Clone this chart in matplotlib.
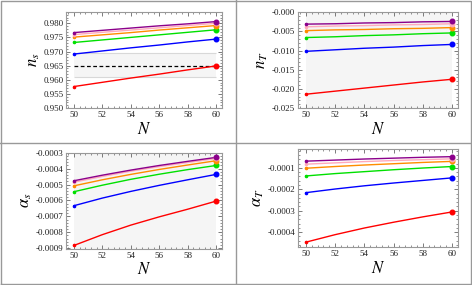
import matplotlib
matplotlib.use("Agg")
import matplotlib.pyplot as plt
from matplotlib.lines import Line2D
from matplotlib.ticker import MultipleLocator, FormatStrFormatter

plt.rcParams["font.family"] = "Liberation Serif"
plt.rcParams["mathtext.fontset"] = "stix"

# e-folds
N = [50, 52, 54, 56, 58, 60]
colors = ["#ff0000", "#0000ff", "#00e000", "#ff8c00", "#ffaabb", "#8b008b"]

# spectral index n_s
ns_red = [0.9576, 0.9591, 0.9606, 0.9620, 0.9635, 0.9649]
ns_blue = [0.9691, 0.9702, 0.9713, 0.9723, 0.9734, 0.9744]
ns_green = [0.9732, 0.9741, 0.9750, 0.9759, 0.9768, 0.9777]
ns_orange = [0.9751, 0.9759, 0.9767, 0.9776, 0.9784, 0.9792]
ns_pink = [0.9760, 0.9768, 0.9776, 0.9784, 0.9792, 0.9800]
ns_purple = [0.9767, 0.9775, 0.9783, 0.9791, 0.9798, 0.9806]
ns_obs = 0.9649
ns_band = [0.9610, 0.9693]

# tensor index n_T
nT_red = [-0.0214, -0.0206, -0.0198, -0.0190, -0.0182, -0.0175]
nT_blue = [-0.0102, -0.0098, -0.0094, -0.0091, -0.0087, -0.0084]
nT_green = [-0.0066, -0.0064, -0.0061, -0.0059, -0.0056, -0.0054]
nT_orange = [-0.0048, -0.0046, -0.0045, -0.0043, -0.0042, -0.0040]
nT_pink = [-0.0038, -0.0036, -0.0035, -0.0033, -0.0032, -0.0030]
nT_purple = [-0.0031, -0.0030, -0.0028, -0.0027, -0.0025, -0.0024]

# running alpha_s
as_red = [-0.000883, -0.000815, -0.000755, -0.000703, -0.000655, -0.000604]
as_blue = [-0.000633, -0.000585, -0.000543, -0.000505, -0.000470, -0.000436]
as_green = [-0.000545, -0.000504, -0.000467, -0.000435, -0.000406, -0.000380]
as_orange = [-0.000508, -0.000470, -0.000436, -0.000405, -0.000377, -0.000350]
as_pink = [-0.000485, -0.000449, -0.000416, -0.000387, -0.000361, -0.000336]
as_purple = [-0.000476, -0.000441, -0.000409, -0.000380, -0.000354, -0.000329]

# running alpha_T
aT_red = [-0.000447, -0.000412, -0.000381, -0.000354, -0.000329, -0.000306]
aT_blue = [-0.000216, -0.000199, -0.000184, -0.000171, -0.000159, -0.000147]
aT_green = [-0.000138, -0.000127, -0.000118, -0.000109, -0.000101, -0.000094]
aT_orange = [-0.000102, -0.000094, -0.000087, -0.000081, -0.000075, -0.000070]
aT_pink = [-0.000083, -0.000077, -0.000071, -0.000066, -0.000062, -0.000058]
aT_purple = [-0.000069, -0.000064, -0.000059, -0.000055, -0.000051, -0.000048]

panels = [
    dict(rect=[0.140, 0.621, 0.330, 0.336], data=[ns_red, ns_blue, ns_green, ns_orange, ns_pink, ns_purple],
         ylim=(0.950, 0.9839), major=0.005, minor=0.001, fmt="%.3f", label=r"$n_s$", shade=False),
    dict(rect=[0.631, 0.621, 0.339, 0.336], data=[nT_red, nT_blue, nT_green, nT_orange, nT_pink, nT_purple],
         ylim=(-0.025, 0.0), major=0.005, minor=0.001, fmt="%.3f", label=r"$n_T$", shade=True),
    dict(rect=[0.140, 0.127, 0.330, 0.337], data=[as_red, as_blue, as_green, as_orange, as_pink, as_purple],
         ylim=(-0.000904, -0.0003), major=0.0001, minor=0.00002, fmt="%.4f", label=r"$\alpha_s$", shade=True),
    dict(rect=[0.631, 0.133, 0.339, 0.344], data=[aT_red, aT_blue, aT_green, aT_orange, aT_pink, aT_purple],
         ylim=(-0.00047, -0.0000125), major=0.0001, minor=0.00002, fmt="%.4f", label=r"$\alpha_T$", shade=False),
]

fig = plt.figure(figsize=(4.72, 2.85), dpi=100)

for p in panels:
    ax = fig.add_axes(p["rect"])
    if p["shade"]:
        ax.axvspan(N[0], N[-1], color="#f5f5f5", lw=0, zorder=0)
    if p["label"] == r"$n_s$":
        ax.fill_between([N[0], N[-1]], ns_band[0], ns_band[1], color="#f5f5f5", lw=0, zorder=0)
        ax.hlines(ns_band, N[0], N[-1], color="#d8d8d8", lw=0.8, zorder=1)
        ax.hlines(ns_obs, N[0], N[-1], color="black", lw=0.9, linestyles=(0, (3, 2)), zorder=2)
    for c, y in zip(colors, p["data"]):
        ax.plot(N, y, color=c, lw=1.0, zorder=3)
        ax.plot(N[0], y[0], "o", color=c, ms=1.6, zorder=4)
        ax.plot(N[-1], y[-1], "o", color=c, ms=3.3, zorder=4)
    ax.set_xlim(49.45, 60.4)
    ax.set_ylim(*p["ylim"])
    ax.xaxis.set_major_locator(MultipleLocator(2))
    ax.xaxis.set_minor_locator(MultipleLocator(0.4))
    ax.yaxis.set_major_locator(MultipleLocator(p["major"]))
    ax.yaxis.set_minor_locator(MultipleLocator(p["minor"]))
    ax.yaxis.set_major_formatter(FormatStrFormatter(p["fmt"]))
    ax.tick_params(which="both", direction="in", top=True, right=True, colors="#666666",
                   labelcolor="#222222", labelsize=6.5, pad=2)
    ax.tick_params(which="major", length=3, width=0.6)
    ax.tick_params(which="minor", length=1.5, width=0.5)
    for s in ax.spines.values():
        s.set_color("#999999")
        s.set_linewidth(0.8)
    ax.set_xlabel(r"$N$", fontsize=12, labelpad=2)
    ax.set_ylabel(p["label"], fontsize=12, labelpad=1)

# cell borders
gc = "#999999"
fig.add_artist(Line2D([0.5, 0.5], [0, 1], color=gc, lw=1.0, transform=fig.transFigure))
fig.add_artist(Line2D([0, 1], [0.5, 0.5], color=gc, lw=1.0, transform=fig.transFigure))
fig.add_artist(Line2D([0.002, 0.998, 0.998, 0.002, 0.002], [0.003, 0.003, 0.997, 0.997, 0.003],
                      color=gc, lw=1.0, transform=fig.transFigure))

fig.savefig("out.png", dpi=100)
